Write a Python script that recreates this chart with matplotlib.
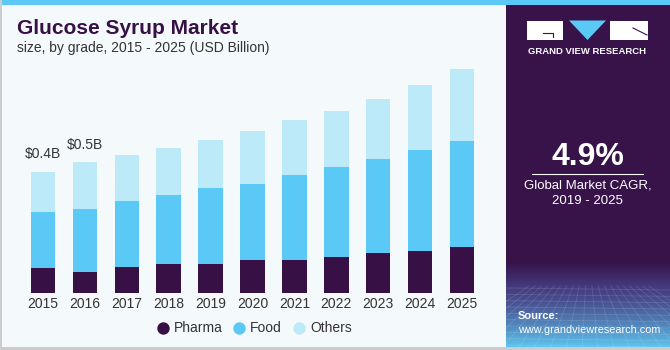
import matplotlib.pyplot as plt
import numpy as np
from matplotlib.patches import Rectangle, Polygon

# data (USD Billion)
years = ['2015', '2016', '2017', '2018', '2019', '2020',
         '2021', '2022', '2023', '2024', '2025']
pharma = [0.086, 0.075, 0.092, 0.101, 0.101, 0.114, 0.114, 0.125, 0.138, 0.147, 0.159]
food = [0.195, 0.216, 0.228, 0.238, 0.261, 0.263, 0.294, 0.312, 0.326, 0.347, 0.366]
others = [0.138, 0.161, 0.157, 0.161, 0.166, 0.183, 0.189, 0.191, 0.206, 0.225, 0.248]
series = ['Pharma', 'Food', 'Others']
value_labels = {0: '$0.4B', 1: '$0.5B'}

# colours
PURPLE = '#371146'
BLUE = '#5bc9f5'
LIGHT = '#bdeaf9'
BG = '#f4f9fc'
PANEL = '#37134a'
TXT = '#333333'

plt.rcParams['font.family'] = ['Liberation Sans', 'DejaVu Sans']

fig = plt.figure(figsize=(6.7, 3.5), dpi=100)
fig.patch.set_facecolor(BG)

# background / decoration layer in pixel coordinates
bg = fig.add_axes([0, 0, 1, 1])
bg.set_xlim(0, 670)
bg.set_ylim(350, 0)
bg.axis('off')
bg.add_patch(Rectangle((0, 0), 670, 5, color=BLUE, lw=0))
bg.add_patch(Rectangle((0, 347), 670, 3, color='#cccccc', lw=0))
bg.add_patch(Rectangle((0, 0), 1.5, 350, color='#cccccc', lw=0))

# right panel with gradient bottom
bg.add_patch(Rectangle((506, 5), 164, 342, color=PANEL, lw=0))
top = np.array([0x37, 0x13, 0x4a]) / 255
mid = np.array([0x45, 0x3c, 0x80]) / 255
bot = np.array([0x5d, 0xc4, 0xee]) / 255
n = 120
cols = np.zeros((n, 1, 3))
for i, t in enumerate(np.linspace(0, 1, n)):
    if t < 0.3:
        cols[i, 0] = top + (mid - top) * (t / 0.3)
    else:
        cols[i, 0] = mid + (bot - mid) * ((t - 0.3) / 0.7) ** 1.3
bg.imshow(cols, extent=(506, 670, 347, 262), aspect='auto', zorder=1)
# faint grid texture
for yy in np.linspace(288, 345, 10):
    bg.plot([506, 670], [yy, yy + 2], color='white', alpha=0.13, lw=0.6, zorder=2)
for xx in np.linspace(440, 740, 20):
    bg.plot([588 + (xx - 588) * 0.4, xx], [286, 347], color='white', alpha=0.13, lw=0.6, zorder=2)

# logo
bg.add_patch(Rectangle((527, 20.5), 36, 19, color='white', lw=0, zorder=3))
bg.plot([543, 553, 553], [33, 33, 37], color=PANEL, lw=0.8, zorder=4)
bg.add_patch(Polygon([(569, 20.5), (606, 20.5), (587.5, 40)], closed=True,
                     color=BLUE, lw=0, zorder=3))
bg.add_patch(Rectangle((609.5, 20.5), 38.5, 19, color='white', lw=0, zorder=3))
bg.plot([633, 647], [28, 35], color=PANEL, lw=0.8, zorder=4)
bg.text(587.5, 51, 'GRAND VIEW RESEARCH', color='white', fontsize=6.8,
        fontweight='bold', ha='center', va='center', zorder=3)

# CAGR
bg.text(587.5, 157, '4.9%', color='white', fontsize=23, fontweight='bold',
        ha='center', va='center', zorder=3)
bg.plot([532, 643], [173.5, 173.5], color='white', lw=0.8, zorder=3)
bg.text(587.5, 185.5, 'Global Market CAGR,', color='white', fontsize=9.5,
        ha='center', va='center', zorder=3)
bg.text(587.5, 201.5, '2019 - 2025', color='white', fontsize=9.5,
        ha='center', va='center', zorder=3)
bg.text(518, 316, 'Source:', color='white', fontsize=8, fontweight='bold',
        ha='left', va='center', zorder=3)
bg.text(518, 330, 'www.grandviewresearch.com', color='white', fontsize=7.8,
        ha='left', va='center', zorder=3)

# titles
bg.text(17, 29, 'Glucose Syrup Market', color=PURPLE, fontsize=15,
        fontweight='bold', ha='left', va='center')
bg.text(17, 48, 'size, by grade, 2015 - 2025 (USD Billion)', color=TXT,
        fontsize=10, ha='left', va='center')

# bar chart
ax = fig.add_axes([20 / 670, (350 - 293.3) / 350, 465 / 670, 233.3 / 350])
ax.patch.set_alpha(0)
x = np.arange(len(years))
w = 0.58
pharma = np.array(pharma)
food = np.array(food)
others = np.array(others)
ax.bar(x, pharma, w, color=PURPLE, zorder=3)
ax.bar(x, food, w, bottom=pharma, color=BLUE, zorder=3)
ax.bar(x, others, w, bottom=pharma + food, color=LIGHT, zorder=3)
totals = pharma + food + others
for i, txt in value_labels.items():
    ax.text(x[i], totals[i] + 0.06, txt, ha='center', va='center',
            fontsize=10, color=TXT)
ax.set_xlim(-0.544, 10.544)
ax.set_ylim(0, 0.805)
ax.set_xticks(x)
ax.set_xticklabels(years, fontsize=10, color=TXT)
ax.tick_params(axis='x', length=0, pad=3)
ax.set_yticks([])
for s in ax.spines.values():
    s.set_visible(False)

# legend
leg_x = [163, 239, 299]
for lx, name, c in zip(leg_x, series, (PURPLE, BLUE, LIGHT)):
    bg.scatter([lx], [328], s=80, color=c, lw=0, zorder=3)
    bg.text(lx + 11, 328, name, fontsize=10, color=TXT, ha='left', va='center')

fig.savefig('out.png', dpi=100, facecolor=fig.get_facecolor())
